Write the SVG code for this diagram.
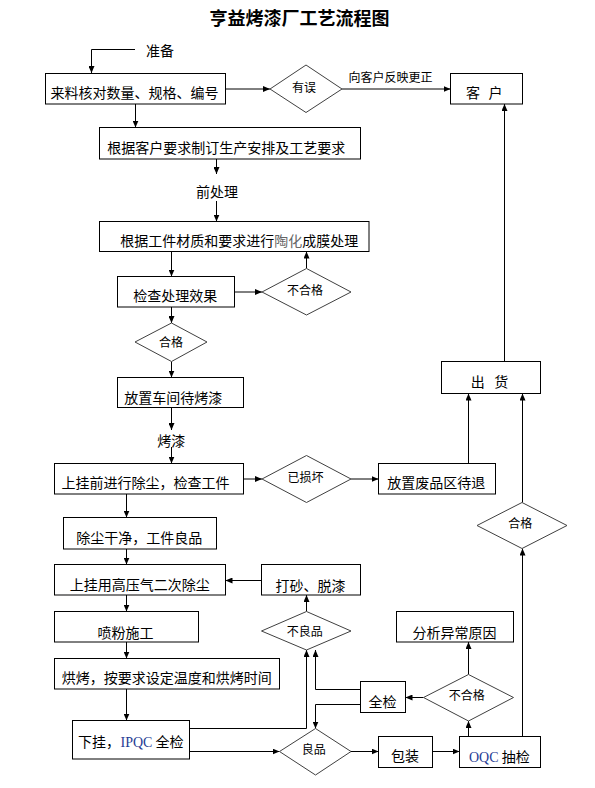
<svg xmlns="http://www.w3.org/2000/svg" width="595" height="788" viewBox="0 0 595 788">
<defs>
<style>
.bx{fill:#fff;stroke:#000;stroke-width:1}
.dm{fill:#fff;stroke:#404040;stroke-width:1}
.t{font-family:"Noto Sans CJK SC","Noto Sans CJK TC",sans-serif;font-size:14px;fill:#000;text-anchor:middle}
.s{font-family:"Noto Sans CJK SC","Noto Sans CJK TC",sans-serif;font-size:12px;fill:#000;text-anchor:middle}
.ln{fill:none;stroke:#000;stroke-width:1;marker-end:url(#ar)}
.lat{font-family:"Liberation Serif",serif;fill:#1f3c94}
</style>
<marker id="ar" markerUnits="userSpaceOnUse" markerWidth="7" markerHeight="6" refX="7" refY="3" orient="auto">
<path d="M0,0 L7,3 L0,6 z" fill="#000"/>
</marker>
</defs>
<rect width="595" height="788" fill="#fff"/>
<text x="299.5" y="24.8" style="font-family:'Noto Sans CJK SC',sans-serif;font-size:18px;font-weight:bold;text-anchor:middle">亨益烤漆厂工艺流程图</text>

<g id="connectors">
<path class="ln" d="M135,49.5 H91.5 V73"/>
<path class="ln" d="M225.5,89 H270"/>
<path class="ln" d="M342,89 H450.5"/>
<path class="ln" d="M135.5,104 V127.5"/>
<path class="ln" d="M216.5,159 V174"/>
<path class="ln" d="M216.5,201 V221.5"/>
<path class="ln" d="M171.5,251.5 V276.5"/>
<path class="ln" d="M234.5,292 H262"/>
<path class="ln" d="M306.5,268.5 V251.5"/>
<path class="ln" d="M171.5,307 V323"/>
<path class="ln" d="M171.5,361.5 V377.5"/>
<path class="ln" d="M171.5,407.5 V430"/>
<path class="ln" d="M171.5,447 V463.5"/>
<path class="ln" d="M243.5,479 H262"/>
<path class="ln" d="M351,479 H378.5"/>
<path class="ln" d="M468.5,463.5 V393.5"/>
<path class="ln" d="M504.5,361.5 V104"/>
<path class="ln" d="M126.5,494 V517.5"/>
<path class="ln" d="M126.5,549 V564.5"/>
<path class="ln" d="M261.5,580.5 H225.5"/>
<path class="ln" d="M306.5,611.5 V595"/>
<path class="ln" d="M126.5,595 V611.5"/>
<path class="ln" d="M126.5,642 V658.5"/>
<path class="ln" d="M126.5,689 V720.5"/>
<path class="ln" d="M189.5,728.5 H306.5 V650"/>
<path class="ln" d="M189.5,751.5 H279.5"/>
<path class="ln" d="M360.5,689.5 H315.5 V650"/>
<path class="ln" d="M360.5,704.5 H315.5 V728.5"/>
<path class="ln" d="M423.5,697.5 H405.5"/>
<path class="ln" d="M468.5,674.5 V642"/>
<path class="ln" d="M468.5,736.5 V721"/>
<path class="ln" d="M351,751.5 H378.5"/>
<path class="ln" d="M432.5,751.5 H459.5"/>
<path class="ln" d="M522.5,736.5 V548.5"/>
<path class="ln" d="M522.5,502.5 V393.5"/>
<text class="s" x="390.5" y="82">向客户反映更正</text>
<text class="t" x="160" y="56">准备</text>
<text class="t" x="217" y="197">前处理</text>
<text class="t" x="171.3" y="446">烤漆</text>
</g>

<g id="n-laoliao"><rect class="bx" x="45.5" y="73.5" width="180" height="30.5"/><text class="t" x="134.5" y="98.3">来料核对数量、规格、编号</text></g>
<g id="n-youwu"><polygon class="dm" points="270,89 306,65 342,89 306,112.5"/><text class="s" x="304" y="92">有误</text></g>
<g id="n-kehu"><rect class="bx" x="450.5" y="73.5" width="72" height="30.5"/><text class="t" y="98"><tspan x="474.5">客</tspan> <tspan x="495.5">户</tspan></text></g>
<g id="n-genju"><rect class="bx" x="99.5" y="127.5" width="261" height="31.5"/><text class="t" x="226.2" y="153">根据客户要求制订生产安排及工艺要求</text></g>
<g id="n-taohua"><rect class="bx" x="99.5" y="221.5" width="269.5" height="30"/><text class="t" x="239.2" y="246.3">根据工件材质和要求进行<tspan fill="#666666">陶化</tspan>成膜处理</text></g>
<g id="n-jiancha"><rect class="bx" x="117.5" y="276.5" width="117" height="30.5"/><text class="t" x="175.3" y="301.3">检查处理效果</text></g>
<g id="n-buhege1"><polygon class="dm" points="262,292 306.5,268.5 351,292 306.5,315"/><text class="s" x="305" y="295.4">不合格</text></g>
<g id="n-hege1"><polygon class="dm" points="135,342 171.5,323 207,342 171.5,361.5"/><text class="s" x="171" y="346.6">合格</text></g>
<g id="n-fangzhi"><rect class="bx" x="117.5" y="377.5" width="126" height="30"/><text class="t" x="173.3" y="403.1">放置车间待烤漆</text></g>
<g id="n-shanggua"><rect class="bx" x="54.5" y="463.5" width="189" height="30.5"/><text class="t" x="145.5" y="488.3">上挂前进行除尘，检查工件</text></g>
<g id="n-yisunhuai"><polygon class="dm" points="262,479 306.5,455.5 351,479 306.5,502.5"/><text class="s" x="305.6" y="481.6">已损坏</text></g>
<g id="n-feipin"><rect class="bx" x="378.5" y="463.5" width="117" height="30.5"/><text class="t" x="436.3" y="488.3">放置废品区待退</text></g>
<g id="n-chuhuo"><rect class="bx" x="441.5" y="361.5" width="99" height="32"/><text class="t" y="387.3"><tspan x="479.3">出</tspan> <tspan x="501.3">货</tspan></text></g>
<g id="n-hege2"><polygon class="dm" points="477,525.5 522,502.5 567,525.5 522,548.5"/><text class="s" x="520.3" y="528.4">合格</text></g>
<g id="n-chuchen"><rect class="bx" x="63.5" y="517.5" width="153" height="31.5"/><text class="t" x="139.2" y="543">除尘干净，工件良品</text></g>
<g id="n-gaoya"><rect class="bx" x="54.5" y="564.5" width="171" height="30.5"/><text class="t" x="139.7" y="589.8">上挂用高压气二次除尘</text></g>
<g id="n-dasha"><rect class="bx" x="261.5" y="564.5" width="99" height="30.5"/><text class="t" x="310.5" y="590.6">打砂、脱漆</text></g>
<g id="n-buliang"><polygon class="dm" points="261.5,631 306.5,611.5 351,631 306.5,650"/><text class="s" x="304.7" y="636">不良品</text></g>
<g id="n-penfen"><rect class="bx" x="54.5" y="611.5" width="144" height="30.5"/><text class="t" x="125.5" y="637.5">喷粉施工</text></g>
<g id="n-fenxi"><rect class="bx" x="396.5" y="611.5" width="117" height="30.5"/><text class="t" x="454.5" y="637.5">分析异常原因</text></g>
<g id="n-hongkao"><rect class="bx" x="54.5" y="658.5" width="225" height="30.5"/><text class="t" x="166.7" y="682.5">烘烤，按要求设定温度和烘烤时间</text></g>
<g id="n-quanjian"><rect class="bx" x="360.5" y="681.5" width="45" height="31"/><text class="t" x="382.5" y="707">全检</text></g>
<g id="n-buhege2"><polygon class="dm" points="423.5,697.5 468.5,674.5 513.5,697.5 468.5,721"/><text class="s" x="466.7" y="700.4">不合格</text></g>
<g id="n-xiagua"><rect class="bx" x="72.5" y="720.5" width="117" height="38.5"/><text class="t" y="746.5" style="text-anchor:start"><tspan x="78">下挂，</tspan><tspan x="120.5" class="lat">IPQC</tspan><tspan x="155.5">全检</tspan></text></g>
<g id="n-liangpin"><polygon class="dm" points="279.5,751.5 315.5,728.5 351,751.5 315.5,775"/><text class="s" x="313.8" y="754">良品</text></g>
<g id="n-baozhuang"><rect class="bx" x="378.5" y="736.5" width="54" height="31"/><text class="t" x="405" y="760.8">包装</text></g>
<g id="n-oqc"><rect class="bx" x="459.5" y="736.5" width="81" height="31"/><text class="t" y="761.8" style="text-anchor:start"><tspan x="469" class="lat">OQC</tspan><tspan x="501.7">抽检</tspan></text></g>
</svg>
